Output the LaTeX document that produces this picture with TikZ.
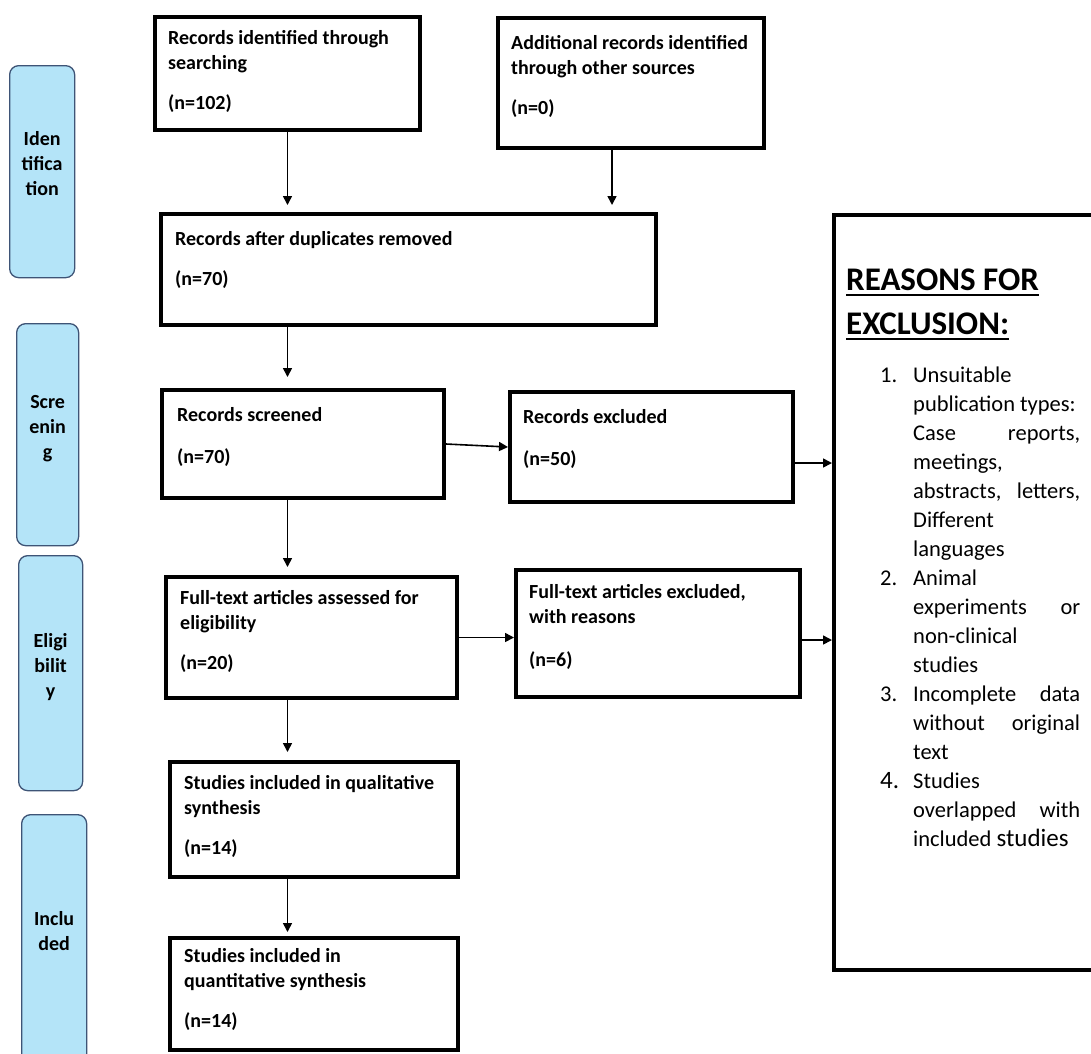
\documentclass[tikz,border=0pt]{standalone}
\usepackage{fontspec}
\setmainfont{Carlito}
\usetikzlibrary{arrows.meta}

\definecolor{fasebl}{RGB}{180,228,248}
\definecolor{faseln}{RGB}{62,84,118}

% Sangria de la lista
\newcommand{\numit}[1]{\makebox[33pt][l]{#1}}
\newcommand{\sang}{\hspace*{33pt}}
\newcommand{\just}[1]{\makebox[167pt][s]{#1}}
% Subrayado grueso
\newcommand{\subr}[1]{\setbox0=\hbox{#1}\rlap{\rule[-5pt]{\wd0}{1.8pt}}\box0}

\begin{document}
\begin{tikzpicture}[x=1pt, y=-1pt,
    caja/.style={draw, line width=4pt, anchor=north west, inner sep=0pt},
    fase/.style={draw=faseln, fill=fasebl, line width=1.3pt, rounded corners=9pt,
        anchor=north west},
    fasetxt/.style={align=center, inner sep=0pt, font=\bfseries\fontsize{20}{25}\selectfont},
    txt/.style={anchor=north west, align=left, inner sep=0pt,
        font=\bfseries\fontsize{20}{25}\selectfont},
    flecha/.style={line width=1.6pt, -{Triangle[length=9pt,width=9pt]}}]
        \useasboundingbox (0,0) rectangle (1091,1053);

        % Fases
        \node[fase, minimum width=65pt, minimum height=212pt] (ident) at (9,65) {};
        \node[fase, minimum width=62pt, minimum height=222pt] (scrn) at (16,323) {};
        \node[fase, minimum width=64pt, minimum height=235pt] (elig) at (18,555) {};
        \node[fase, minimum width=65pt, minimum height=250pt] (incl) at (21,814) {};
        \node[fasetxt] (ident-t) at ([yshift=8pt]ident.center) {Iden\\tifica\\tion};
        \node[fasetxt] (scrn-t) at ([yshift=6pt]scrn.center) {Scre\\enin\\g};
        \node[fasetxt] (elig-t) at ([yshift=6pt]elig.center) {Eligi\\bilit\\y};
        \node[fasetxt] (incl-t) at ([yshift=9pt]incl.center) {Inclu\\ded};

        % Cajas
        \node[caja, minimum width=265pt, minimum height=113pt] (srch) at (153,15) {};
        \node[caja, minimum width=266pt, minimum height=130pt] (add) at (496,16) {};
        \node[caja, minimum width=495pt, minimum height=111pt] (dup) at (159,212) {};
        \node[caja, minimum width=282pt, minimum height=108pt] (scr) at (160,388) {};
        \node[caja, minimum width=283pt, minimum height=110pt] (scrx) at (508,390) {};
        \node[caja, minimum width=291pt, minimum height=121pt] (full) at (164,575) {};
        \node[caja, minimum width=284pt, minimum height=127pt] (fullx) at (514,568) {};
        \node[caja, minimum width=288pt, minimum height=115pt] (qual) at (168,760) {};
        \node[caja, minimum width=288pt, minimum height=112pt] (quant) at (168,936) {};
        \node[caja, minimum width=280pt, minimum height=755pt] (excl) at (832,213) {};

        % Textos
        \node[txt] (srch-t) at (168,30) {Records identified through\\searching\\[15pt](n=102)};
        \node[txt] (add-t) at (511,35) {Additional records identified\\through other sources\\[15pt](n=0)};
        \node[txt] (dup-t) at (175,231) {Records after duplicates removed\\[15pt](n=70)};
        \node[txt] (scr-t) at (177,407) {Records screened\\[17pt](n=70)};
        \node[txt] (scrx-t) at (523,409) {Records excluded\\[17pt](n=50)};
        \node[txt] (full-t) at (180,590) {Full-text articles assessed for\\eligibility\\[15pt](n=20)};
        \node[txt] (fullx-t) at (529,584) {Full-text articles excluded,\\with reasons\\[18pt](n=6)};
        \node[txt] (qual-t) at (184,775) {Studies included in qualitative\\synthesis\\[15pt](n=14)};
        \node[txt] (quant-t) at (184,948) {Studies included in\\quantitative synthesis\\[15pt](n=14)};

        % Motivos de exclusion
        \node[anchor=north west, align=left, inner sep=0pt,
            font=\bfseries\fontsize{33}{44}\selectfont] (motivo) at (846,269)
            {\subr{REASONS FOR}\\\subr{EXCLUSION:}};
        \node[anchor=north west, align=left, inner sep=0pt,
            font=\fontsize{22.5}{29}\selectfont] (lista) at (880,367) {%
            \numit{1.}Unsuitable\\
            \sang publication types:\\
            \sang\just{Case reports,}\\
            \sang meetings,\\
            \sang\just{abstracts, letters,}\\
            \sang Different\\
            \sang languages\\
            \numit{2.}Animal\\
            \sang\just{experiments or}\\
            \sang non-clinical\\
            \sang studies\\
            \numit{3.}\just{Incomplete data}\\
            \sang\just{without original}\\
            \sang text\\
            \numit{{\fontsize{25}{29}\selectfont 4.}}Studies\\
            \sang\just{overlapped with}\\
            \sang included {\fontsize{25}{29}\selectfont studies}};

        % Flechas
        \draw[flecha, shorten >=7pt] (srch.south) -- (srch.south |- dup.north);
        \draw[flecha, shorten >=7pt] ([xshift=-19pt]add.south) -- ([xshift=-19pt]add.south |- dup.north);
        \draw[flecha, shorten >=11pt] (dup.south -| srch.south) -- (scr.north -| srch.south);
        \draw[flecha, shorten >=8pt] (scr.south -| srch.south) -- (full.north -| srch.south);
        \draw[flecha, shorten >=8pt] (full.south -| srch.south) -- (qual.north -| srch.south);
        \draw[flecha, shorten >=4pt] (qual.south -| srch.south) -- (quant.north -| srch.south);
        \draw[flecha] (scr.east) -- (scrx.west);
        \draw[flecha] ([yshift=-16pt]scrx.east) -- ([yshift=-16pt]scrx.east -| excl.west);
        \draw[flecha] (full.east) -- (full.east -| fullx.west);
        \draw[flecha] ([yshift=-6.5pt]fullx.east) -- ([yshift=-6.5pt]fullx.east -| excl.west);
    \end{tikzpicture}
\end{document}
